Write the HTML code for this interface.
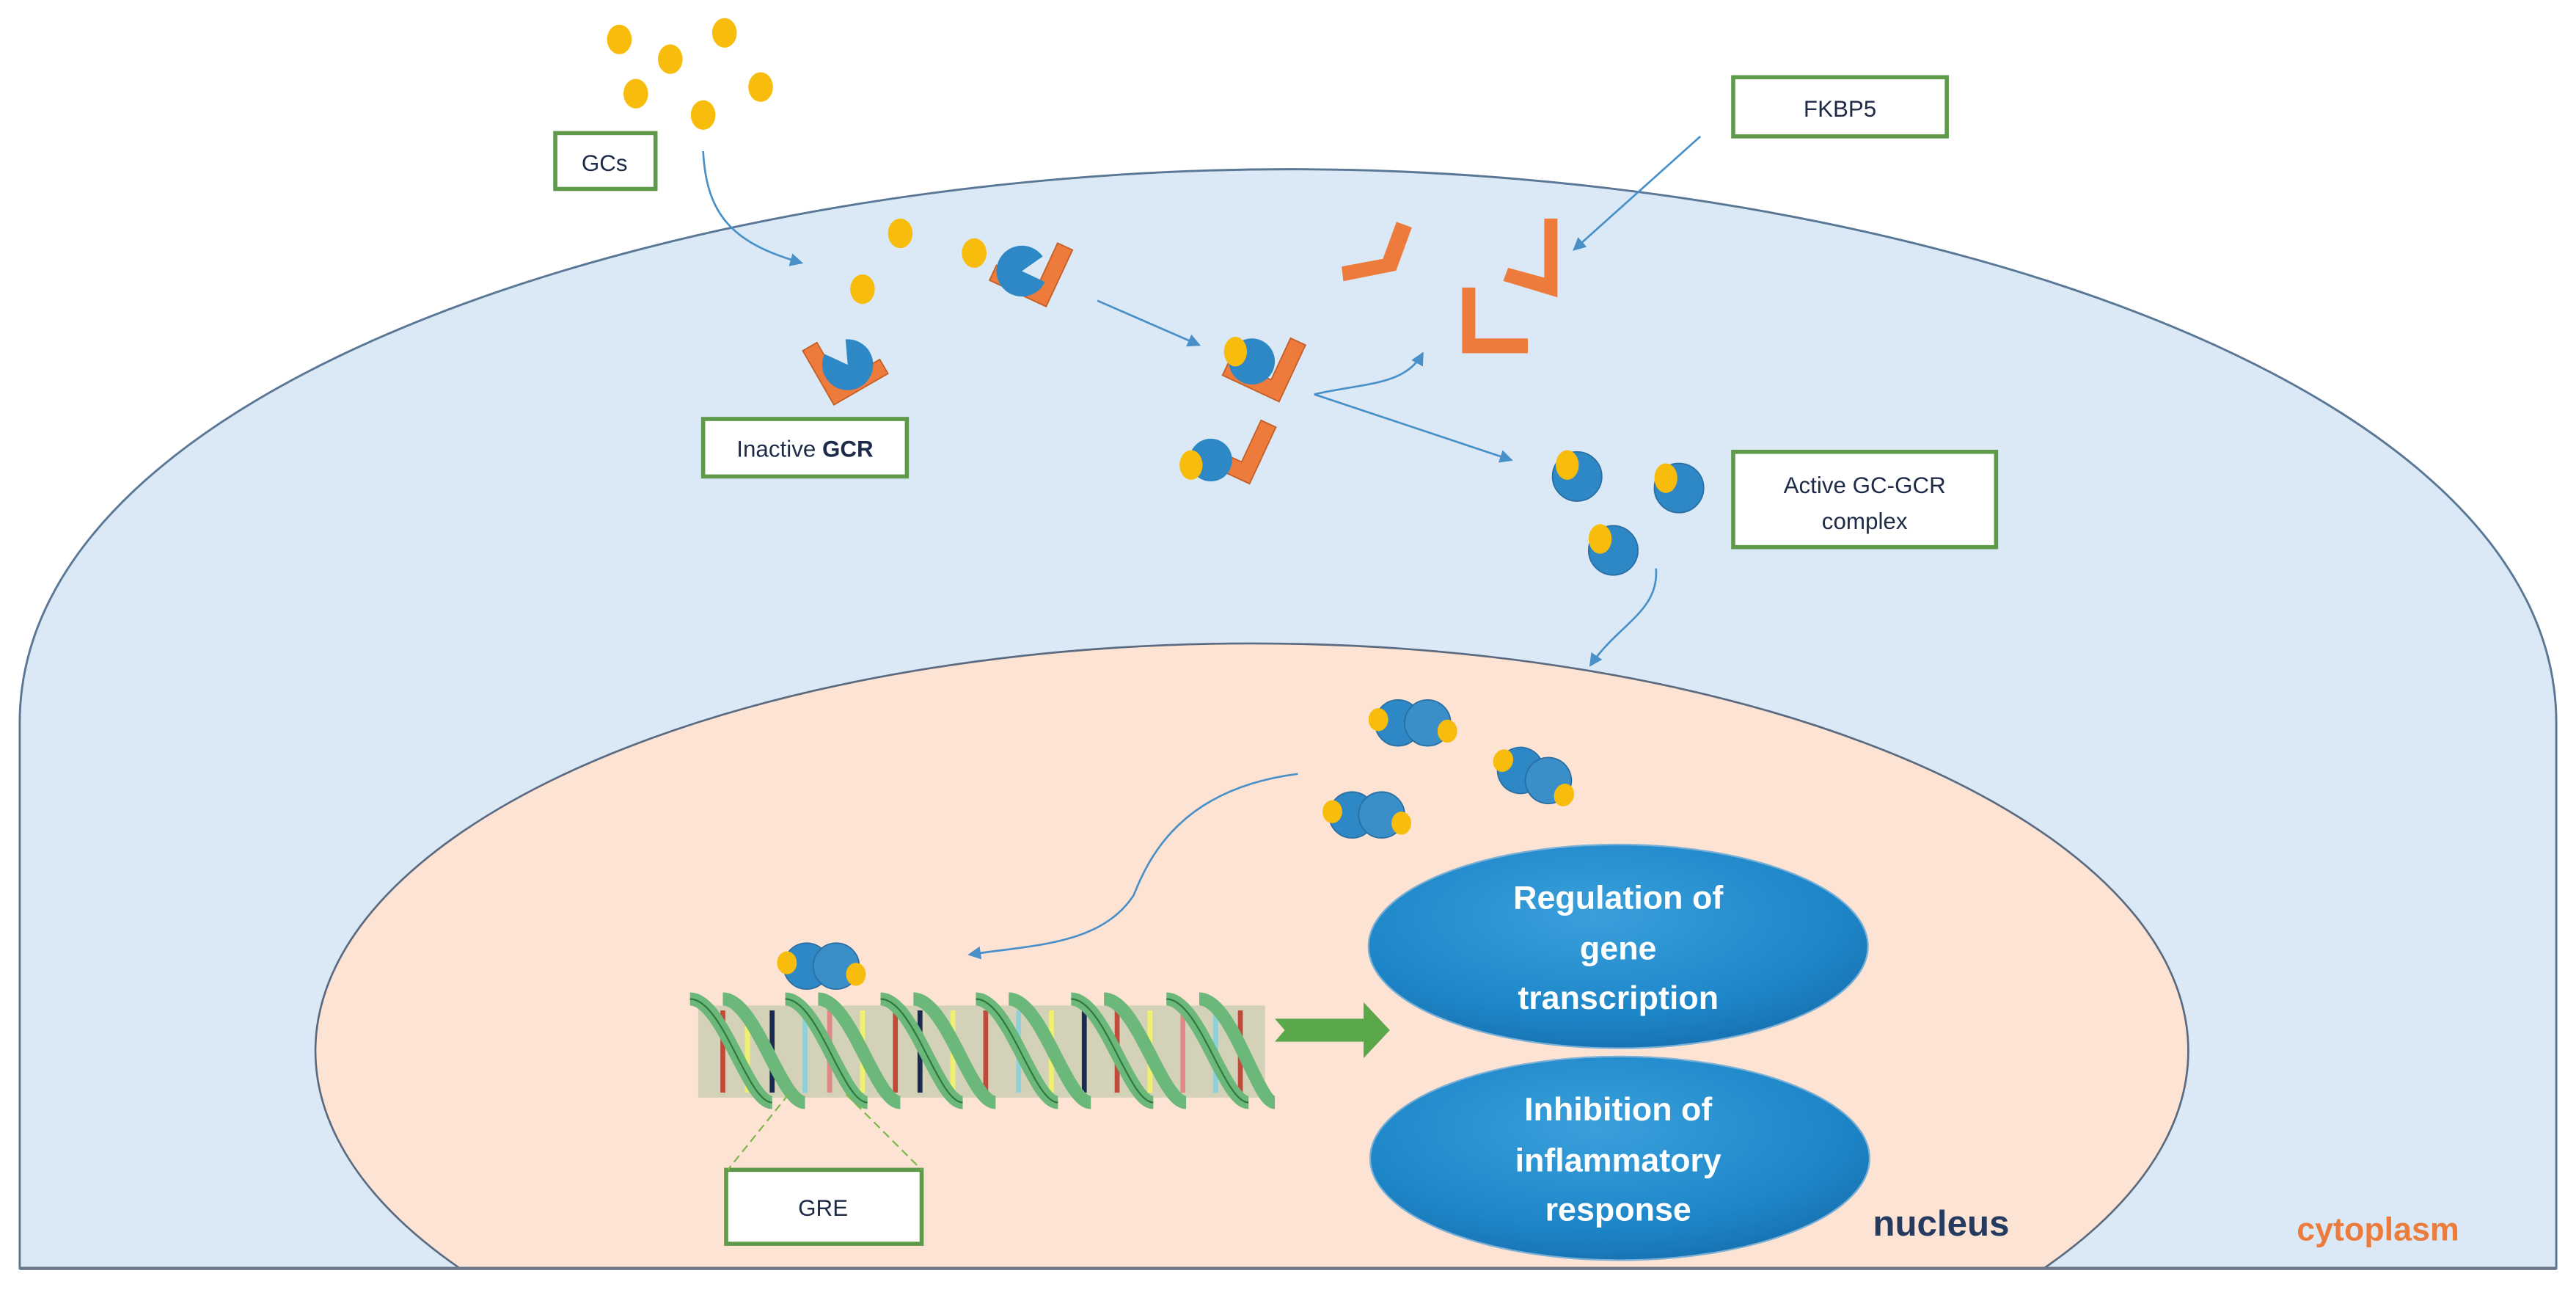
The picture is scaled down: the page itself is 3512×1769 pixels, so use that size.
<!DOCTYPE html>
<html><head><meta charset="utf-8"><style>
html,body{margin:0;padding:0;background:#fff;width:3512px;height:1769px;overflow:hidden;position:relative;}
svg{display:block;position:absolute;top:0;left:0;}
text{font-family:"Liberation Sans",sans-serif;}
</style></head><body>
<svg width="3512" height="1769" viewBox="0 0 1568 790" preserveAspectRatio="none" xmlns="http://www.w3.org/2000/svg">
<defs>
<radialGradient id="eg" cx="0.45" cy="0.35" r="0.7">
<stop offset="0" stop-color="#3aa0dc"/><stop offset="0.7" stop-color="#1d86c8"/><stop offset="1" stop-color="#176fae"/>
</radialGradient>
<marker id="ar" markerWidth="8" markerHeight="8" refX="7" refY="4" orient="auto" markerUnits="userSpaceOnUse">
<path d="M0,0 L8,4 L0,8 Z" fill="#4a90c8"/>
</marker>
<g id="drop"><ellipse cx="0" cy="0" rx="7.5" ry="9" fill="#f8bd0c"/></g>
<path id="Lsh" d="M0,0 L10,0 L10,28 L38,28 L38,38 L0,38 Z" fill="#ec7b3c" stroke="#c45f28" stroke-width="0.8"/>
<g id="dimer">
<circle cx="-9" cy="0" r="14" fill="#2e88c6" stroke="#2a6fa3" stroke-width="0.8"/>
<circle cx="9" cy="0" r="14" fill="#3a8fc9" stroke="#2a6fa3" stroke-width="0.8"/>
<ellipse cx="-21" cy="-2" rx="6" ry="7" fill="#f8bd0c"/>
<ellipse cx="21" cy="5" rx="6" ry="7" fill="#f8bd0c"/>
</g>
</defs>

<path d="M12,772 L12,440 C12,230 420,103 785,103 C1150,103 1556,230 1556,440 L1556,772 Z" fill="#dae9f5" stroke="#5a7896" stroke-width="1.3"/>
<path d="M280,772 A570,248 0 1 1 1244,772 Z" fill="#fde3d4" stroke="#5a6a80" stroke-width="1.2"/>
<line x1="12" y1="772" x2="1556" y2="772" stroke="#6a7888" stroke-width="2"/>

<use href="#drop" x="377" y="24"/><use href="#drop" x="408" y="36"/><use href="#drop" x="441" y="20"/>
<use href="#drop" x="387" y="57"/><use href="#drop" x="463" y="53"/><use href="#drop" x="428" y="70"/>
<use href="#drop" x="525" y="176"/><use href="#drop" x="548" y="142"/><use href="#drop" x="593" y="154"/>

<g fill="#fff" stroke="#5f9a4a" stroke-width="2.5">
<rect x="338" y="81" width="61" height="34"/>
<rect x="1055" y="47" width="130" height="36"/>
<rect x="428" y="255" width="124" height="35"/>
<rect x="1055" y="275" width="160" height="58"/>
<rect x="442" y="712" width="119" height="45"/>
</g>
<g fill="#1e2b48" font-size="14" text-anchor="middle">
<text x="368" y="104">GCs</text>
<text x="1120" y="71">FKBP5</text>
<text x="490" y="278">Inactive <tspan font-weight="bold">GCR</tspan></text>
<text x="1135" y="300">Active GC-GCR</text>
<text x="1135" y="322">complex</text>
<text x="501" y="740">GRE</text>
</g>

<g fill="none" stroke="#4a90c8" stroke-width="1.2" marker-end="url(#ar)">
<path d="M428,92 C430,130 445,148 488,160"/>
<path d="M1035,83 L958,152"/>
<path d="M668,183 L730,210"/>
<path d="M800,240 C830,233 855,235 866,215"/>
<path d="M800,240 L920,280"/>
<path d="M1008,346 C1010,372 985,380 968,405"/>
<path d="M790,471 C720,480 700,520 690,545 C670,575 630,575 590,581"/>
</g>

<g transform="translate(512,230) rotate(-30)"><use href="#Lsh" x="-12" y="-26"/></g>
<g transform="translate(516,222) rotate(-30)"><path d="M0,0 L-15,-4 A15.5,15.5 0 1 0 -4,-15 Z" fill="#2e88c6" transform="rotate(40)"/></g>
<g transform="translate(630,168) rotate(-20)"><use href="#Lsh" x="-14" y="-24" transform="rotate(-45)"/></g>
<g transform="translate(622,165)"><path d="M0,0 L-15,-4 A15.5,15.5 0 1 0 -4,-15 Z" fill="#2e88c6" transform="rotate(130)"/></g>
<g transform="translate(770,225) rotate(-65)"><use href="#Lsh" x="-14" y="-22"/></g>
<g transform="translate(762,220)"><circle r="14" fill="#2e88c6"/><ellipse cx="-10" cy="-6" rx="7" ry="9" fill="#f8bd0c"/></g>
<g transform="translate(752,275) rotate(-65)"><use href="#Lsh" x="-14" y="-22"/></g>
<g transform="translate(737,280)"><circle r="13" fill="#2e88c6"/><ellipse cx="-12" cy="3" rx="7" ry="9" fill="#f8bd0c"/></g>

<g transform="translate(850,135) rotate(20)"><path d="M0,0 L10,0 L10,28 L-18,45 L-22,37 L0,24 Z" fill="#ec7b3c"/></g>
<g transform="translate(940,133)"><path d="M0,0 L8,0 L8,48 L-25,38 L-22,30 L0,36 Z" fill="#ec7b3c"/></g>
<g transform="translate(890,175)"><path d="M0,0 L8,0 L8,31 L40,31 L40,40 L0,40 Z" fill="#ec7b3c"/></g>

<g transform="translate(960,290)"><circle r="15" fill="#2e88c6" stroke="#2a6fa3" stroke-width="0.8"/><ellipse cx="-6" cy="-7" rx="7" ry="9" fill="#f8bd0c"/></g>
<g transform="translate(1022,297)"><circle r="15" fill="#2e88c6" stroke="#2a6fa3" stroke-width="0.8"/><ellipse cx="-8" cy="-6" rx="7" ry="9" fill="#f8bd0c"/></g>
<g transform="translate(982,335)"><circle r="15" fill="#2e88c6" stroke="#2a6fa3" stroke-width="0.8"/><ellipse cx="-8" cy="-7" rx="7" ry="9" fill="#f8bd0c"/></g>

<use href="#dimer" x="860" y="440"/>
<use href="#dimer" x="934" y="472" transform="rotate(20 934 472)"/>
<use href="#dimer" x="832" y="496"/>
<use href="#dimer" x="500" y="588"/>

<g>
<rect x="425" y="612" width="345" height="56" fill="#2e8a46" opacity="0.2"/>
<g stroke-width="3">
<line x1="440" y1="615" x2="440" y2="665" stroke="#c24a3a"/><line x1="455" y1="615" x2="455" y2="665" stroke="#f0f070"/>
<line x1="470" y1="615" x2="470" y2="665" stroke="#1a2a50"/><line x1="490" y1="615" x2="490" y2="665" stroke="#90d0d8"/>
<line x1="505" y1="615" x2="505" y2="665" stroke="#e08888"/><line x1="525" y1="615" x2="525" y2="665" stroke="#f0f070"/>
<line x1="545" y1="615" x2="545" y2="665" stroke="#c24a3a"/><line x1="560" y1="615" x2="560" y2="665" stroke="#1a2a50"/>
<line x1="580" y1="615" x2="580" y2="665" stroke="#f0f070"/><line x1="600" y1="615" x2="600" y2="665" stroke="#c24a3a"/>
<line x1="620" y1="615" x2="620" y2="665" stroke="#90d0d8"/><line x1="640" y1="615" x2="640" y2="665" stroke="#f0f070"/>
<line x1="660" y1="615" x2="660" y2="665" stroke="#1a2a50"/><line x1="680" y1="615" x2="680" y2="665" stroke="#c24a3a"/>
<line x1="700" y1="615" x2="700" y2="665" stroke="#f0f070"/><line x1="720" y1="615" x2="720" y2="665" stroke="#e08888"/>
<line x1="740" y1="615" x2="740" y2="665" stroke="#90d0d8"/><line x1="755" y1="615" x2="755" y2="665" stroke="#c24a3a"/>
</g>
<g fill="none" stroke="#6cb87a" stroke-width="8">
<path d="M420,608 C440,608 455,671 470,671 M478,608 C498,608 513,671 528,671 M536,608 C556,608 571,671 586,671 M594,608 C614,608 629,671 644,671 M652,608 C672,608 687,671 702,671 M710,608 C730,608 745,671 760,671"/>
<path d="M440,608 C460,608 475,671 490,671 M498,608 C518,608 533,671 548,671 M556,608 C576,608 591,671 606,671 M614,608 C634,608 649,671 664,671 M672,608 C692,608 707,671 722,671 M730,608 C750,608 765,671 776,671"/>
</g>
<g fill="none" stroke="#2e7a3e" stroke-width="1">
<path d="M420,608 C440,608 455,671 470,671 M478,608 C498,608 513,671 528,671 M536,608 C556,608 571,671 586,671 M594,608 C614,608 629,671 644,671 M652,608 C672,608 687,671 702,671 M710,608 C730,608 745,671 760,671"/>
</g>
</g>
<g stroke="#7cb84a" stroke-width="1" stroke-dasharray="5,3">
<line x1="480" y1="666" x2="443" y2="712"/><line x1="515" y1="666" x2="561" y2="712"/>
</g>
<path d="M776,620 L830,620 L830,610 L846,627 L830,644 L830,634 L776,634 L782,627 Z" fill="#5aa84a"/>

<ellipse cx="985" cy="576" rx="152" ry="62" fill="url(#eg)" stroke="#7ab0d6" stroke-width="1"/>
<ellipse cx="986" cy="705" rx="152" ry="62" fill="url(#eg)" stroke="#7ab0d6" stroke-width="1"/>
<g fill="#fff" font-size="20" font-weight="bold" text-anchor="middle">
<text x="985" y="553">Regulation of</text>
<text x="985" y="584">gene</text>
<text x="985" y="614">transcription</text>
<text x="985" y="682">Inhibition of</text>
<text x="985" y="713">inflammatory</text>
<text x="985" y="743">response</text>
</g>
<text x="1140" y="752" font-size="22" font-weight="bold" fill="#243a5e">nucleus</text>
<text x="1398" y="755" font-size="20" font-weight="bold" fill="#ec7b3c">cytoplasm</text>
</svg>
</body></html>
